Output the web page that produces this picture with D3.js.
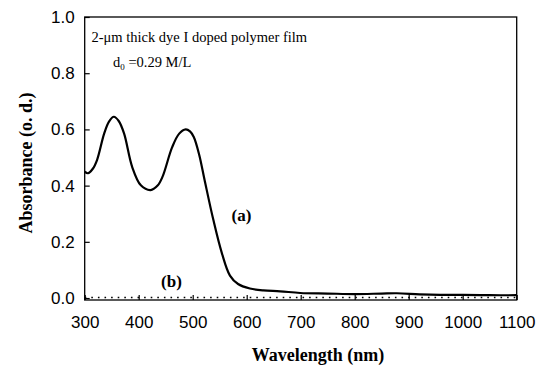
<!DOCTYPE html>
<html>
<head>
<meta charset="utf-8">
<script src="https://cdn.jsdelivr.net/npm/d3@7"></script>
<style>
  body { margin: 0; background: #fff; }
  svg { display: block; }
</style>
</head>
<body>
<div id="chart"></div>
<script>
// curve (a): dye-doped film
const wavelengthA = [300, 306, 315, 323, 336, 345, 354, 363, 373, 388, 404, 422, 435, 444, 462, 475, 487, 495, 502, 512, 522, 538, 554, 569, 584, 606, 631, 662, 699, 750, 800, 850, 878, 920, 958, 1000, 1050, 1100];
const absorbanceA = [0.450, 0.444, 0.460, 0.492, 0.585, 0.628, 0.645, 0.630, 0.585, 0.466, 0.401, 0.384, 0.400, 0.431, 0.537, 0.585, 0.600, 0.593, 0.573, 0.510, 0.420, 0.280, 0.160, 0.080, 0.050, 0.034, 0.027, 0.024, 0.018, 0.016, 0.014, 0.016, 0.017, 0.013, 0.011, 0.011, 0.010, 0.010];

// curve (b): dotted, near zero
const wavelengthB = [300, 400, 500, 600, 700, 800, 900, 1000, 1100];
const absorbanceB = [0.002, 0.002, 0.002, 0.002, 0.002, 0.002, 0.002, 0.002, 0.002];

const xTicks = [300, 400, 500, 600, 700, 800, 900, 1000, 1100];
const yTicks = [0.0, 0.2, 0.4, 0.6, 0.8, 1.0];

const width = 540, height = 367;
const margin = { left: 84.7, right: 23.3, top: 17, bottom: 67 };

const svg = d3.select("#chart").append("svg")
    .attr("width", width)
    .attr("height", height);

const x = d3.scaleLinear().domain([300, 1100]).range([margin.left, width - margin.right]);
const y = d3.scaleLinear().domain([-0.007, 1]).range([height - margin.bottom, margin.top]);

const sans = "'Liberation Sans', Arial, sans-serif";
const serif = "'Liberation Serif', 'Times New Roman', serif";

// axes, ticks pointing inward
const xAxis = svg.append("g")
    .attr("transform", `translate(0,${y.range()[0]})`)
    .call(d3.axisBottom(x).tickValues(xTicks).tickSize(-5).tickPadding(16).tickFormat(d3.format("d")));

const yAxis = svg.append("g")
    .attr("transform", `translate(${margin.left},0)`)
    .call(d3.axisLeft(y).tickValues(yTicks).tickSize(-5).tickPadding(10).tickFormat(d3.format(".1f")));

[xAxis, yAxis].forEach(g => {
    g.select(".domain").remove();
    g.selectAll(".tick line").attr("stroke", "#000").attr("stroke-width", 1.2);
    g.selectAll(".tick text")
        .attr("fill", "#000")
        .style("font-family", sans)
        .style("font-size", "17px");
});

// frame
svg.append("rect")
    .attr("x", x(300))
    .attr("y", y(1))
    .attr("width", x(1100) - x(300))
    .attr("height", y.range()[0] - y(1))
    .attr("fill", "none")
    .attr("stroke", "#000")
    .attr("stroke-width", 1.3);

// curve (b), dotted
const lineB = d3.line()
    .x((d, i) => x(wavelengthB[i]))
    .y(d => y(d));

svg.append("path")
    .datum(absorbanceB)
    .attr("d", lineB)
    .attr("fill", "none")
    .attr("stroke", "#000")
    .attr("stroke-width", 1.6)
    .attr("stroke-dasharray", "1.6,5");

// curve (a), solid
const lineA = d3.line()
    .x((d, i) => x(wavelengthA[i]))
    .y(d => y(d))
    .curve(d3.curveCatmullRom.alpha(0.5));

svg.append("path")
    .datum(absorbanceA)
    .attr("d", lineA)
    .attr("fill", "none")
    .attr("stroke", "#000")
    .attr("stroke-width", 2.2)
    .attr("stroke-linejoin", "round");

// annotations
svg.append("text")
    .attr("x", 91.5)
    .attr("y", 41.5)
    .style("font-family", serif)
    .style("font-size", "14.5px")
    .text("2-μm thick dye I doped polymer film");

const d0 = svg.append("text")
    .attr("x", 113)
    .attr("y", 66.5)
    .style("font-family", serif)
    .style("font-size", "14.5px");
d0.append("tspan").text("d");
d0.append("tspan").attr("dy", 3).style("font-size", "9px").text("0");
d0.append("tspan").attr("dy", -3).text(" =0.29 M/L");

svg.append("text")
    .attr("x", 241.5)
    .attr("y", 221)
    .attr("text-anchor", "middle")
    .style("font-family", serif)
    .style("font-weight", "bold")
    .style("font-size", "17px")
    .text("(a)");

svg.append("text")
    .attr("x", 171.5)
    .attr("y", 287)
    .attr("text-anchor", "middle")
    .style("font-family", serif)
    .style("font-weight", "bold")
    .style("font-size", "17px")
    .text("(b)");

// axis titles
svg.append("text")
    .attr("x", 318)
    .attr("y", 361)
    .attr("text-anchor", "middle")
    .style("font-family", serif)
    .style("font-weight", "bold")
    .style("font-size", "18px")
    .text("Wavelength (nm)");

svg.append("text")
    .attr("transform", `translate(32,163) rotate(-90)`)
    .attr("text-anchor", "middle")
    .style("font-family", serif)
    .style("font-weight", "bold")
    .style("font-size", "18px")
    .text("Absorbance (o. d.)");
</script>
</body>
</html>
